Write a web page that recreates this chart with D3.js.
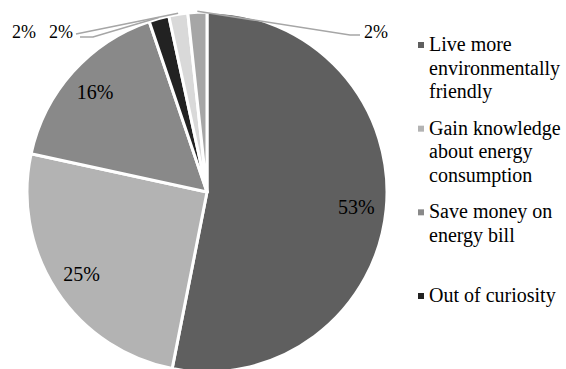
<!DOCTYPE html>
<html>
<head>
<meta charset="utf-8">
<script src="https://cdn.jsdelivr.net/npm/d3@7"></script>
<style>
  html, body { margin: 0; padding: 0; background: #fff; }
</style>
</head>
<body>
<svg id="chart" width="566" height="369"></svg>
<script>
  // share of respondents per motivation (percent), clockwise from 12 o'clock
  var values = [53.1, 25.3, 16.4, 1.8, 1.7, 1.7]
  var colors = ['#5f5f5f', '#b3b3b3', '#898989', '#222222', '#d9d9d9', '#a6a6a6']
  var categories = [
    'Live more environmentally friendly',
    'Gain knowledge about energy consumption',
    'Save money on energy bill',
    'Out of curiosity'
  ]
  var legendLines = [
    ['Live more', 'environmentally', 'friendly'],
    ['Gain knowledge', 'about energy', 'consumption'],
    ['Save money on', 'energy bill'],
    ['Out of curiosity']
  ]

  var FONT = 'Liberation Serif'

  var svg = d3.select('#chart')
  var cx = 207
  var cy = 192
  var radius = 180
  var labelRadius = 150

  var pie = d3.pie().sort(null).value(function (d) { return d })
  var arcs = pie(values)
  var arc = d3.arc().innerRadius(0).outerRadius(radius)
  var labelArc = d3.arc().innerRadius(labelRadius).outerRadius(labelRadius)
  var fmt = function (d) { return d3.format('.0f')(d) + '%' }

  var g = svg.append('g').attr('transform', 'translate(' + cx + ',' + cy + ')')

  g.selectAll('path.slice')
    .data(arcs)
    .enter().append('path')
    .attr('class', 'slice')
    .attr('d', arc)
    .attr('fill', function (d, i) { return colors[i] })
    .attr('stroke', '#fff')
    .attr('stroke-width', 3)
    .attr('stroke-linejoin', 'round')

  // labels inside the big slices
  g.selectAll('text.inner')
    .data(arcs.filter(function (d) { return d.value > 5 }))
    .enter().append('text')
    .attr('class', 'inner')
    .attr('x', function (d) { return labelArc.centroid(d)[0] })
    .attr('y', function (d) { return labelArc.centroid(d)[1] + 7 })
    .attr('text-anchor', 'middle')
    .attr('font-family', FONT)
    .attr('font-size', 20)
    .text(function (d) { return fmt(d.value) })

  // callouts for the thin slices (label anchor and elbow, in page coords)
  var callouts = [
    { text: [24, 38], path: [[93, 37], [80, 37]] },
    { text: [61, 38], path: [[76, 34]] },
    { text: [376, 38], path: [[350, 35], [360, 35]] }
  ]
  var small = arcs.filter(function (d) { return d.value <= 5 })
  var edge = d3.arc().innerRadius(radius + 1).outerRadius(radius + 1)

  small.forEach(function (d, i) {
    var c = callouts[i]
    var p = edge.centroid(d)
    var pts = [[p[0] + cx, p[1] + cy]].concat(c.path)
    svg.append('path')
      .attr('d', d3.line()(pts))
      .attr('fill', 'none')
      .attr('stroke', '#a6a6a6')
      .attr('stroke-width', 1.5)
    svg.append('text')
      .attr('x', c.text[0])
      .attr('y', c.text[1])
      .attr('text-anchor', 'middle')
      .attr('font-family', FONT)
      .attr('font-size', 18)
      .text(fmt(d.value))
  })

  // legend
  var legendY = d3.scalePoint()
    .domain(categories)
    .range([45, 296])
  var lineH = 23.5

  var items = svg.selectAll('g.legend')
    .data(categories)
    .enter().append('g')
    .attr('class', 'legend')
    .attr('transform', function (d) { return 'translate(418,' + legendY(d) + ')' })

  items.append('rect')
    .attr('x', 0)
    .attr('y', -3)
    .attr('width', 6)
    .attr('height', 6)
    .attr('fill', function (d, i) { return colors[i] })

  items.each(function (d, i) {
    var t = d3.select(this).append('text')
      .attr('font-family', FONT)
      .attr('font-size', 20)
    legendLines[i].forEach(function (line, j) {
      t.append('tspan')
        .attr('x', 11)
        .attr('y', j * lineH + 6)
        .text(line)
    })
  })
</script>
</body>
</html>
